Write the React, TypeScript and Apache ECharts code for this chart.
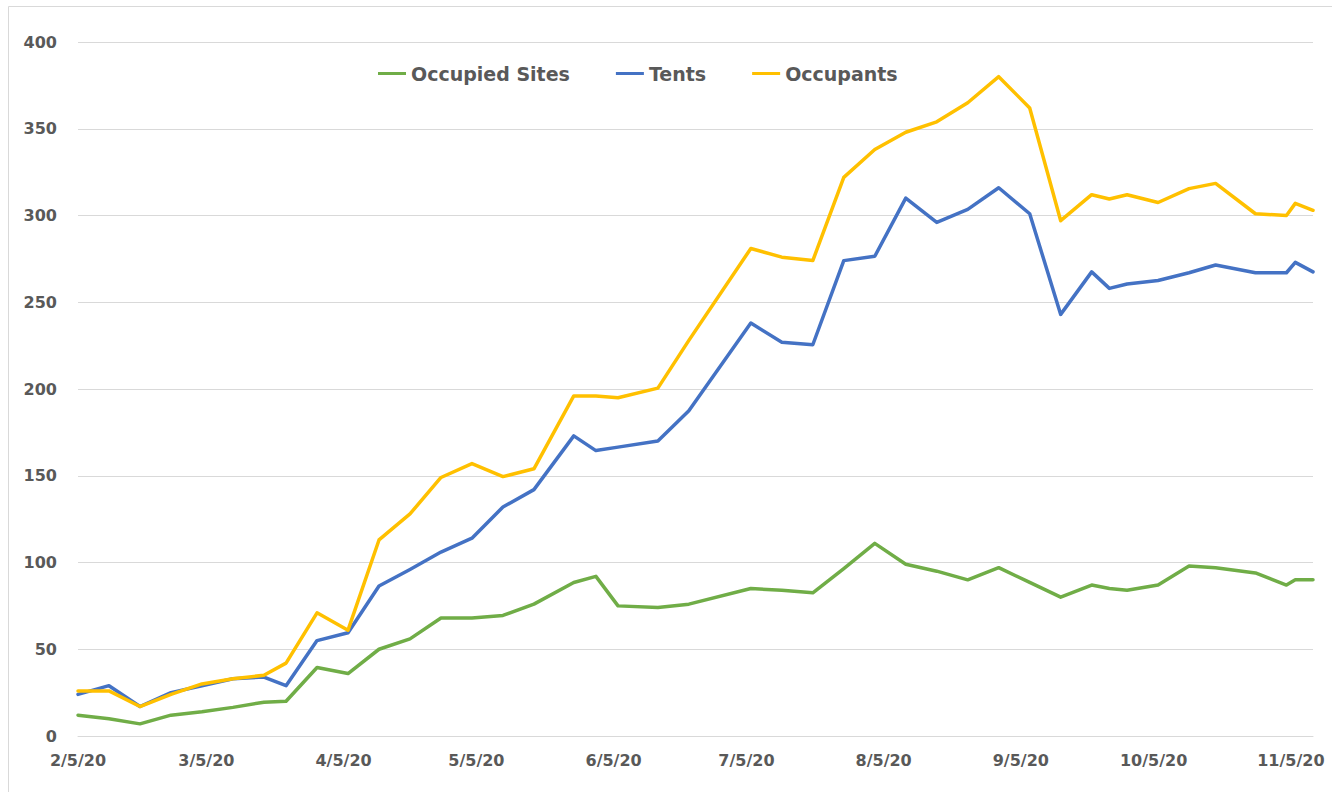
import React, { useEffect, useRef } from "react";
import * as echarts from "echarts";

// Observation dates (2020)
const dates = [
  "2020-02-05", "2020-02-12", "2020-02-19", "2020-02-26", "2020-03-04", "2020-03-11",
  "2020-03-18", "2020-03-23", "2020-03-30", "2020-04-06", "2020-04-13", "2020-04-20",
  "2020-04-27", "2020-05-04", "2020-05-11", "2020-05-18", "2020-05-27", "2020-06-01",
  "2020-06-06", "2020-06-15", "2020-06-22", "2020-07-06", "2020-07-13", "2020-07-20",
  "2020-07-27", "2020-08-03", "2020-08-10", "2020-08-17", "2020-08-24", "2020-08-31",
  "2020-09-07", "2020-09-14", "2020-09-21", "2020-09-25", "2020-09-29", "2020-10-06",
  "2020-10-13", "2020-10-19", "2020-10-28", "2020-11-04", "2020-11-06", "2020-11-10",
];

const occupiedSites = [
  12, 10, 7, 12, 14, 16.5, 19.5, 20, 39.5, 36, 50, 56, 68, 68, 69.5, 76, 88.5, 92, 75, 74,
  76, 85, 84, 82.5, 96.5, 111, 99, 95, 90, 97, 88.5, 80, 87, 85, 84, 87, 98, 97, 94, 87, 90, 90,
];

const tents = [
  24, 29, 17, 25, 29, 33, 34, 29, 55, 59.5, 86.5, 96, 106, 114, 132, 142, 173, 164.5, 166.5, 170,
  187.5, 238, 227, 225.5, 274, 276.5, 310, 296, 303.5, 316, 301, 243, 267.5, 258, 260.5, 262.5,
  267, 271.5, 267, 267, 273, 267.5,
];

const occupants = [
  26, 26, 17, 24, 30, 33, 35, 42, 71, 61, 113, 128, 149, 157, 149.5, 154, 196, 196, 195, 200.5,
  228, 281, 276, 274, 322, 338, 348, 354, 365, 380, 362, 297, 312, 309.5, 312, 307.5, 315.5,
  318.5, 301, 300, 307, 303,
];

const seriesNames = ["Occupied Sites", "Tents", "Occupants"];
const seriesColors = ["#70ad47", "#4472c4", "#ffc000"];

const tickDates = [
  "2020-02-05", "2020-03-05", "2020-04-05", "2020-05-05", "2020-06-05",
  "2020-07-05", "2020-08-05", "2020-09-05", "2020-10-05", "2020-11-05",
];
const axisStart = "2020-02-05";
const axisEnd = "2020-11-10";

const yMin = 0;
const yMax = 400;
const yStep = 50;

function toTime(s: string): number {
  const [y, m, d] = s.split("-").map(Number);
  return new Date(y, m - 1, d).getTime();
}

function fmtDate(v: number): string {
  const d = new Date(v);
  return `${d.getMonth() + 1}/${d.getDate()}/${String(d.getFullYear()).slice(2)}`;
}

export default function App() {
  const ref = useRef<HTMLDivElement>(null);

  useEffect(() => {
    document.body.style.margin = "0";
    if (!ref.current) return;
    const chart = echarts.init(ref.current, undefined, { renderer: "svg" });
    const font = "'DejaVu Sans', Verdana, sans-serif";
    const values = [occupiedSites, tents, occupants];

    chart.setOption({
      animation: false,
      backgroundColor: "#ffffff",
      graphic: [
        {
          type: "rect",
          shape: { x: 8.5, y: 6.5, width: 1400, height: 900 },
          style: { fill: "none", stroke: "#d9d9d9", lineWidth: 1 },
          silent: true,
          z: -10,
        },
      ],
      legend: {
        data: seriesNames,
        left: 373,
        top: 59,
        icon: "rect",
        itemWidth: 28,
        itemHeight: 3,
        itemGap: 46,
        textStyle: { fontFamily: font, fontSize: 19, fontWeight: "bold", color: "#595959" },
      },
      grid: { left: 78, right: 19, top: 42, bottom: 56, containLabel: false },
      xAxis: {
        type: "value",
        min: toTime(axisStart),
        max: toTime(axisEnd),
        axisLine: { show: true, onZero: false, lineStyle: { color: "#d9d9d9", width: 1 } },
        axisTick: { show: false },
        splitLine: { show: false },
        axisLabel: {
          customValues: tickDates.map(toTime),
          formatter: (v: number) => fmtDate(v),
          fontFamily: font,
          fontSize: 16,
          fontWeight: "bold",
          color: "#595959",
          margin: 16,
          hideOverlap: false,
        },
      },
      yAxis: {
        type: "value",
        min: yMin,
        max: yMax,
        interval: yStep,
        axisLine: { show: false },
        axisTick: { show: false },
        splitLine: { lineStyle: { color: "#d9d9d9", width: 1 } },
        axisLabel: {
          fontFamily: font,
          fontSize: 16,
          fontWeight: "bold",
          color: "#595959",
          margin: 21,
        },
      },
      series: seriesNames.map((name, i) => ({
        name,
        type: "line",
        data: dates.map((d, j) => [toTime(d), values[i][j]]),
        showSymbol: false,
        symbol: "none",
        smooth: false,
        color: seriesColors[i],
        lineStyle: { color: seriesColors[i], width: 3.5, join: "round", cap: "round" },
      })),
    });

    return () => chart.dispose();
  }, []);

  return <div ref={ref} style={{ width: 1332, height: 792 }} />;
}
